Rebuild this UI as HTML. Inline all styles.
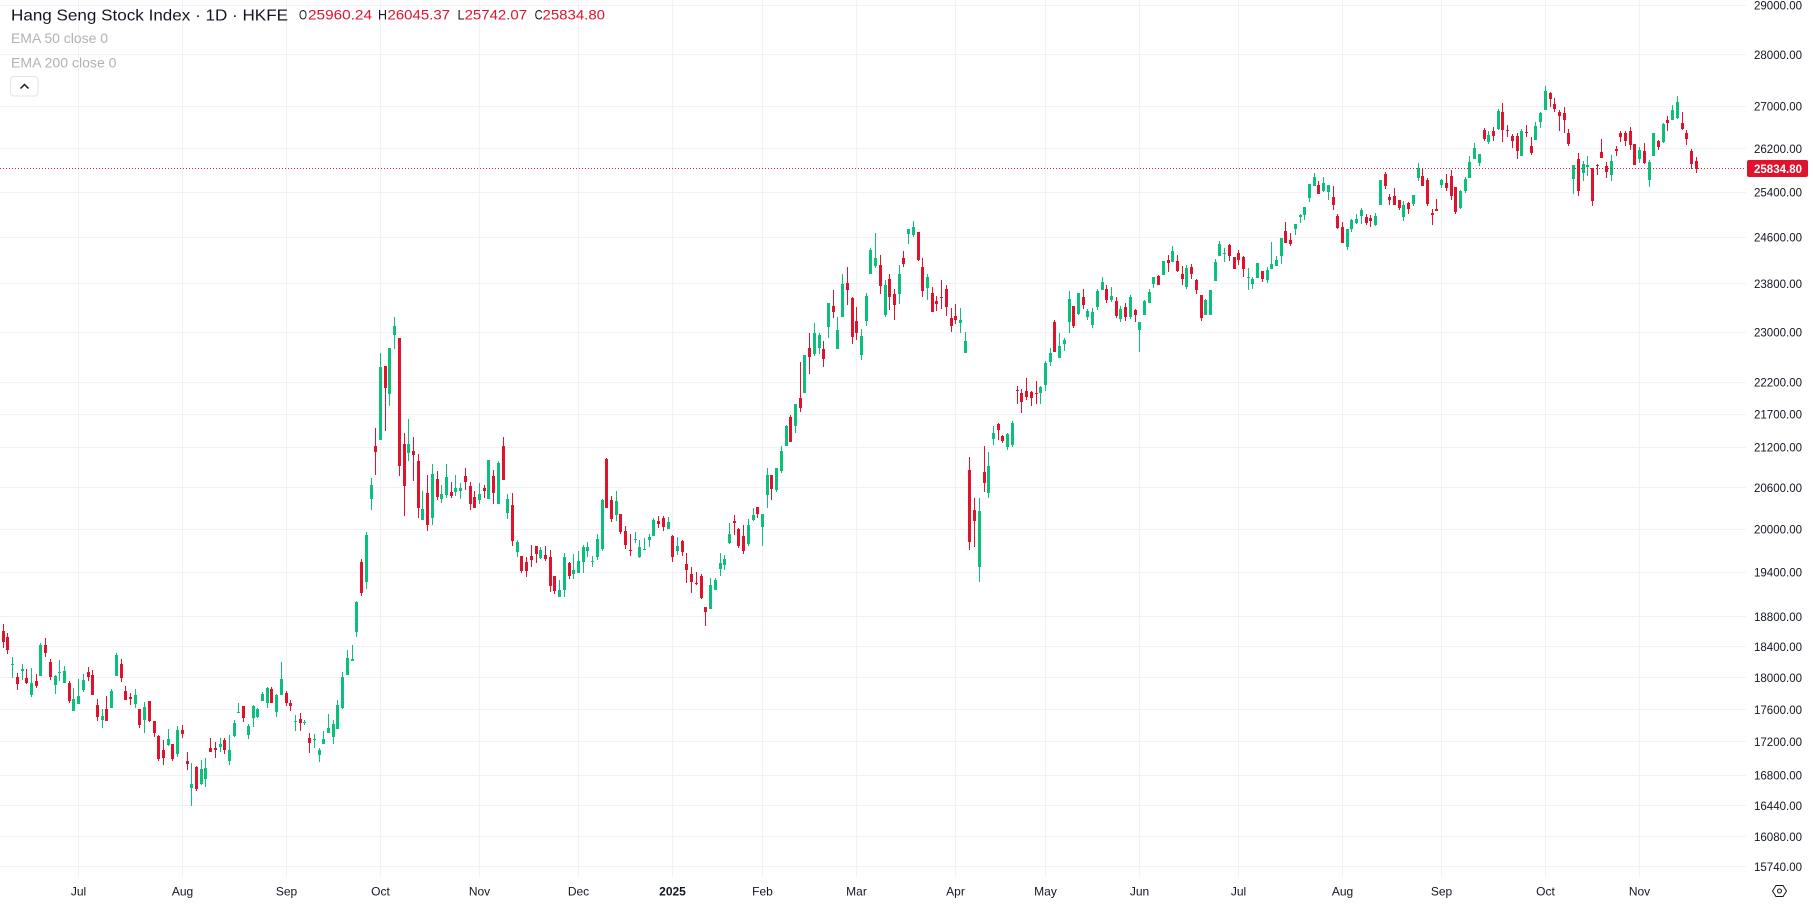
<!DOCTYPE html>
<html>
<head>
<meta charset="utf-8">
<style>
html,body{margin:0;padding:0;background:#ffffff;width:1813px;height:905px;overflow:hidden}
svg{display:block}
text{font-family:"Liberation Sans",Arial,sans-serif}
</style>
</head>
<body>
<svg width="1813" height="905" xmlns="http://www.w3.org/2000/svg">
<rect x="0" y="0" width="1813" height="905" fill="#ffffff"/>
<g stroke="#f0f2f7" stroke-width="1" shape-rendering="crispEdges">
<line x1="0" x2="1746" y1="5.5" y2="5.5"/>
<line x1="0" x2="1746" y1="54.5" y2="54.5"/>
<line x1="0" x2="1746" y1="106.5" y2="106.5"/>
<line x1="0" x2="1746" y1="148.5" y2="148.5"/>
<line x1="0" x2="1746" y1="192.5" y2="192.5"/>
<line x1="0" x2="1746" y1="237.5" y2="237.5"/>
<line x1="0" x2="1746" y1="283.5" y2="283.5"/>
<line x1="0" x2="1746" y1="332.5" y2="332.5"/>
<line x1="0" x2="1746" y1="382.5" y2="382.5"/>
<line x1="0" x2="1746" y1="414.5" y2="414.5"/>
<line x1="0" x2="1746" y1="447.5" y2="447.5"/>
<line x1="0" x2="1746" y1="487.5" y2="487.5"/>
<line x1="0" x2="1746" y1="529.5" y2="529.5"/>
<line x1="0" x2="1746" y1="572.5" y2="572.5"/>
<line x1="0" x2="1746" y1="616.5" y2="616.5"/>
<line x1="0" x2="1746" y1="646.5" y2="646.5"/>
<line x1="0" x2="1746" y1="677.5" y2="677.5"/>
<line x1="0" x2="1746" y1="709.5" y2="709.5"/>
<line x1="0" x2="1746" y1="741.5" y2="741.5"/>
<line x1="0" x2="1746" y1="775.5" y2="775.5"/>
<line x1="0" x2="1746" y1="805.5" y2="805.5"/>
<line x1="0" x2="1746" y1="836.5" y2="836.5"/>
<line x1="0" x2="1746" y1="866.5" y2="866.5"/>
<line y1="0" y2="877" x1="78.5" x2="78.5"/>
<line y1="0" y2="877" x1="182.5" x2="182.5"/>
<line y1="0" y2="877" x1="286.5" x2="286.5"/>
<line y1="0" y2="877" x1="380.5" x2="380.5"/>
<line y1="0" y2="877" x1="479.5" x2="479.5"/>
<line y1="0" y2="877" x1="578.5" x2="578.5"/>
<line y1="0" y2="877" x1="672.5" x2="672.5"/>
<line y1="0" y2="877" x1="762.5" x2="762.5"/>
<line y1="0" y2="877" x1="856.5" x2="856.5"/>
<line y1="0" y2="877" x1="955.5" x2="955.5"/>
<line y1="0" y2="877" x1="1045.5" x2="1045.5"/>
<line y1="0" y2="877" x1="1139.5" x2="1139.5"/>
<line y1="0" y2="877" x1="1238.5" x2="1238.5"/>
<line y1="0" y2="877" x1="1342.5" x2="1342.5"/>
<line y1="0" y2="877" x1="1441.5" x2="1441.5"/>
<line y1="0" y2="877" x1="1545.5" x2="1545.5"/>
<line y1="0" y2="877" x1="1639.5" x2="1639.5"/>
</g>

<g id="candles" shape-rendering="crispEdges"></g>

<line x1="0" x2="1746" y1="168.5" y2="168.5" stroke="#e0122c" stroke-width="1" stroke-dasharray="1 2" shape-rendering="crispEdges"/>

<!-- header -->
<text x="11" y="20.5" font-size="16" fill="#131722" textLength="277" lengthAdjust="spacingAndGlyphs">Hang Seng Stock Index · 1D · HKFE</text>
<g font-size="14">
<text x="299" y="19.5" fill="#131722" textLength="8" lengthAdjust="spacingAndGlyphs">O</text>
<text x="308" y="19.5" fill="#e0122c" textLength="64" lengthAdjust="spacingAndGlyphs">25960.24</text>
<text x="378" y="19.5" fill="#131722" textLength="9" lengthAdjust="spacingAndGlyphs">H</text>
<text x="387.5" y="19.5" fill="#e0122c" textLength="62.5" lengthAdjust="spacingAndGlyphs">26045.37</text>
<text x="457.5" y="19.5" fill="#131722" textLength="7" lengthAdjust="spacingAndGlyphs">L</text>
<text x="464.6" y="19.5" fill="#e0122c" textLength="62.5" lengthAdjust="spacingAndGlyphs">25742.07</text>
<text x="534.6" y="19.5" fill="#131722" textLength="8" lengthAdjust="spacingAndGlyphs">C</text>
<text x="542.5" y="19.5" fill="#e0122c" textLength="62.5" lengthAdjust="spacingAndGlyphs">25834.80</text>
<text x="11" y="43" fill="#b2b2b2" textLength="97" lengthAdjust="spacingAndGlyphs">EMA 50 close 0</text>
<text x="11" y="67.5" fill="#b2b2b2" textLength="105.5" lengthAdjust="spacingAndGlyphs">EMA 200 close 0</text>
</g>
<rect x="10.5" y="76.5" width="27.5" height="19.5" rx="3.5" ry="3.5" fill="#ffffff" stroke="#e0e3eb" stroke-width="1"/>
<polyline points="20.5,88.5 24.5,84.5 28.5,88.5" fill="none" stroke="#131722" stroke-width="1.5"/>

<!-- price axis labels -->
<g font-size="12" fill="#131722">
<text x="1754" y="9.5" textLength="48" lengthAdjust="spacingAndGlyphs">29000.00</text>
<text x="1754" y="59" textLength="48" lengthAdjust="spacingAndGlyphs">28000.00</text>
<text x="1754" y="110.5" textLength="48" lengthAdjust="spacingAndGlyphs">27000.00</text>
<text x="1754" y="153" textLength="48" lengthAdjust="spacingAndGlyphs">26200.00</text>
<text x="1754" y="196.5" textLength="48" lengthAdjust="spacingAndGlyphs">25400.00</text>
<text x="1754" y="241.5" textLength="48" lengthAdjust="spacingAndGlyphs">24600.00</text>
<text x="1754" y="288" textLength="48" lengthAdjust="spacingAndGlyphs">23800.00</text>
<text x="1754" y="336.5" textLength="48" lengthAdjust="spacingAndGlyphs">23000.00</text>
<text x="1754" y="386.5" textLength="48" lengthAdjust="spacingAndGlyphs">22200.00</text>
<text x="1754" y="418.5" textLength="48" lengthAdjust="spacingAndGlyphs">21700.00</text>
<text x="1754" y="451.5" textLength="48" lengthAdjust="spacingAndGlyphs">21200.00</text>
<text x="1754" y="492" textLength="48" lengthAdjust="spacingAndGlyphs">20600.00</text>
<text x="1754" y="533.5" textLength="48" lengthAdjust="spacingAndGlyphs">20000.00</text>
<text x="1754" y="576.5" textLength="48" lengthAdjust="spacingAndGlyphs">19400.00</text>
<text x="1754" y="621" textLength="48" lengthAdjust="spacingAndGlyphs">18800.00</text>
<text x="1754" y="651" textLength="48" lengthAdjust="spacingAndGlyphs">18400.00</text>
<text x="1754" y="682" textLength="48" lengthAdjust="spacingAndGlyphs">18000.00</text>
<text x="1754" y="714" textLength="48" lengthAdjust="spacingAndGlyphs">17600.00</text>
<text x="1754" y="746" textLength="48" lengthAdjust="spacingAndGlyphs">17200.00</text>
<text x="1754" y="779.5" textLength="48" lengthAdjust="spacingAndGlyphs">16800.00</text>
<text x="1754" y="810" textLength="48" lengthAdjust="spacingAndGlyphs">16440.00</text>
<text x="1754" y="841" textLength="48" lengthAdjust="spacingAndGlyphs">16080.00</text>
<text x="1754" y="871" textLength="48" lengthAdjust="spacingAndGlyphs">15740.00</text>
</g>
<rect x="1747" y="160" width="61" height="17" rx="2" ry="2" fill="#e0122c"/>
<text x="1754" y="172.8" font-size="12" font-weight="bold" fill="#ffffff" textLength="48" lengthAdjust="spacingAndGlyphs">25834.80</text>

<!-- time axis -->
<g font-size="12" fill="#131722" text-anchor="middle">
<text x="78.5" y="895.5">Jul</text>
<text x="182.5" y="895.5">Aug</text>
<text x="286.5" y="895.5">Sep</text>
<text x="380.5" y="895.5">Oct</text>
<text x="479.5" y="895.5">Nov</text>
<text x="578.5" y="895.5">Dec</text>
<text x="672.5" y="895.5" font-weight="bold">2025</text>
<text x="762.5" y="895.5">Feb</text>
<text x="856.5" y="895.5">Mar</text>
<text x="955.5" y="895.5">Apr</text>
<text x="1045.5" y="895.5">May</text>
<text x="1139.5" y="895.5">Jun</text>
<text x="1238.5" y="895.5">Jul</text>
<text x="1342.5" y="895.5">Aug</text>
<text x="1441.5" y="895.5">Sep</text>
<text x="1545.5" y="895.5">Oct</text>
<text x="1639.5" y="895.5">Nov</text>
</g>
<polygon points="1772.5,891 1776,885.5 1783,885.5 1786.5,891 1783,896.5 1776,896.5" fill="none" stroke="#131722" stroke-width="1"/>
<circle cx="1779.5" cy="891" r="2" fill="none" stroke="#131722" stroke-width="1"/>
</svg>

<script>
(function(){
var G="#0ac17c", R="#e0122c";
var S=[
[610,1,"r 42 63 95 113,r 69 81 119 131,g 140 161 163 204,r 188 201 221 239,g 162 177 182 210,r 177 204 218 221,g 174 219 255 260,r 192 213 228 235,g 99 105 197 197,r 84 105 128 140,r 147 156 201 210,g 195 198 224 251,g 150 185 187 213,g 168 183 218 218,r 213 219 273 278,g 234 268 302 302,g 207 258 281 281,g 192 210 239 246,r 171 186 201 213,r 180 195 254 254,r 267 285 320 332,g 297 318 329 353,r 258 297 332 332,g 237 243 293 293,g 129 135 197 197,r 147 162 204 216,r 228 243 269 269,r 249 261 266 285,g 237 255 281 293,r 296 296 344 353,g 276 291 329 368,r 273 273 332 335,r 332 332 370 382,r 374 377 446 452,r 390 420 443 464,g 357 387 405 407,r 402 402 446 452,g 347 360 431 440,r 345 360 371 383,r 426 453 461 479,g 459 522 533 587,r 467 470 537 542,g 450 477 521 524,g 443 474 506 530,r 384 414 425 425,r 396 414 419 443,g 384 402 411 425,r 384 390 419 431,g 375 420 452 464,g 330 339 377 380,g 279 306 308 310,r 288 288 323 335,g 342 348 374 386,g 285 288 323 350,g 294 297 320 323,g 246 252 272 272,g 231 234 279 293,r 231 237 279 279,g 252 255 305 320,g 156 207 255 255,r 243 249 279 287,r 270 279 288 302,g 315 332 334 362,r 309 327 338 362,g 330 336 338 345,r 369 384 398 428,g 372 386 389 414,g 414 420 434 455,g 362 387 401 401,g 312 354 368 368,g 330 342 380 401,g 270 285 356 356,g 186 201 294 296,g 120 144 194 194,g 105 147 152 152"],
[310,76,"g 872 875 965 980,r 747 756 848 857,g 666 675 815 836,g 504 525 566 599,r 354 408 425 494,g 129 171 389 389,r 168 168 233 362,g 114 114 251 287,g 21 48 74 116,r 84 84 467 497,r 369 402 527 617,g 327 402 428 452,r 381 423 434 512,r 432 453 593 623,g 543 597 629 629,r 494 549 644 662,g 462 491 623 644,r 483 507 561 569,g 525 552 566 578,g 462 501 554 563,r 516 546 557 563,g 495 534 545 557,g 519 534 542 566,r 474 498 516 539,r 516 528 581 599,r 543 561 593 593,g 519 552 569 581,r 525 534 542 563,g 450 450 566 566,r 480 497 548 581,g 453 459 581 581,r 381 408 509 509,g 552 567 608 626,r 549 585 692 707,g 690 696 725 740,r 738 738 782 788,r 741 756 782 800,r 705 738 749 770,r 708 708 731 758,g 711 720 743 746,r 708 735 746 752,r 720 741 827 845,r 798 798 842 851,g 809 839 860 860,g 728 741 839 860,r 757 759 797 806,g 731 780 791 806,g 722 752 788 788,g 705 711 755 788,g 696 711 722 740,g 738 752 754 770,g 672 687 740 749,g 567 570 716 722,r 443 447 593 593,r 558 570 626 635,g 543 573 614 632,r 612 612 665 671,r 648 663 705 716,r 672 719 721 737,g 666 686 688 698,g 690 711 741 743,g 684 716 718 720,g 672 681 689 711,g 624 630 677 677,r 617 632 641 653,r 618 624 650 662,g 621 636 656 656,r 675 677 740 755,g 681 708 722 734,r 689 692 725 737,r 729 762 779 818,r 771 792 815 848,r 785 819 821 824,r 791 797 863 866,r 891 891 905 947,g 803 825 896 896,g 803 809 839 839,g 729 759 776 797,g 735 746 764 779,g 639 672 698 701,r 615 632 638 674,r 654 657 707 713,r 645 678 722 731,g 627 645 701 707"],
[210,160,"g 894 915 929 932,r 891 891 911 923,g 912 912 950 1007,g 774 795 854 893,r 795 795 836 869,g 774 774 839 845,g 708 723 782 788,g 645 648 707 707,r 615 621 695 695,g 582 582 647 668,r 456 564 593 605,g 435 435 548 548,r 369 414 440 491,g 339 369 431 437,g 369 375 413 431,r 393 417 446 470,g 279 279 350 383,r 240 288 305 323,g 321 360 416 416,g 192 222 320 320,r 171 219 239 284,r 261 264 380 401,r 291 333 368 389,g 357 378 434 449,g 249 258 332 347,g 114 120 191 191,g 69 144 167 173,r 135 165 227 251,g 210 225 314 320,r 192 207 260 299,r 237 252 284 329,g 165 192 251 281,r 123 144 161 170,g 57 57 71 101,g 33 51 74 80,r 66 66 150 153,r 144 171 242 260,g 192 201 233 269,r 231 249 305 305,r 257 272 281 302,r 210 260 262 296,r 225 237 290 317,r 294 324 347 365,r 282 318 329 341,g 294 330 338 368,g 366 393 428 428,r 741 780 995 1019,r 864 900 932 1010,g 864 903 1070 1115,r 708 786 818 845,g 726 768 848 863,g 648 669 686 704"],
[150,212,"r 819 822 839 869,r 855 857 873 880,g 848 851 891 900,g 812 819 885 890,r 708 719 721 761,r 717 729 755 788,r 684 723 741 750,r 723 726 743 767,r 693 729 731 761,g 708 711 728 761,g 633 639 705 722,g 594 609 636 648,r 510 516 606 606,g 549 588 624 624,g 564 570 581 603,g 423 447 516 549,r 468 468 528 534,g 429 429 492 495,r 417 441 465 477,g 477 483 501 510,g 474 486 524 534,g 417 423 471 480,g 381 396 420 420,r 405 417 449 459,g 411 438 450 456,r 441 453 498 504,g 468 477 507 516,r 459 471 501 513,g 435 441 501 507,r 477 480 495 516,g 516 516 540 606,g 450 453 495 495,g 417 426 459 459,g 381 381 402 414,r 375 378 405 405,g 333 333 375 375,r 315 330 339 366,g 288 303 336 336,r 315 333 363 366,r 348 372 387 405,g 345 354 411 417,r 342 351 372 387,r 387 390 420 432,r 435 435 504 513,g 447 450 495 495,g 420 420 495 495,g 327 336 393 393,g 273 282 318 318,g 294 309 311 336,r 282 285 318 333,r 321 321 357 357,r 300 309 330 345,r 318 321 357 381,g 354 382 384 420,g 381 387 402 417,g 339 339 384 384,r 363 363 387 396,g 351 360 390 399,g 276 342 357 357,g 318 330 348 348,g 264 264 318 342,r 216 243 279 279,r 249 270 282 288,g 222 222 237 255,g 192 195 201 219,g 171 171 195 210,g 102 102 144 156,g 69 81 108 108,r 93 105 132 132,g 81 99 123 126,g 105 105 126 150,r 108 141 165 180,r 192 198 234 237"],
[75,285,"r 441 456 503 503,g 462 462 515 525,g 432 435 461 470,g 417 432 443 446,g 399 405 422 446,r 417 426 443 449,r 420 429 437 455,g 414 423 449 452,g 316 316 389 389,r 291 297 332 341,r 357 366 374 389,r 339 363 389 389,r 375 375 398 404,g 378 390 425 437,r 381 384 401 416,g 360 360 386 392,g 264 279 308 317,r 279 303 332 332,r 309 315 386 392,r 402 414 419 449,r 372 402 407 407,g 312 315 329 338,r 297 324 338 347,r 285 303 362 374,r 336 336 410 416,g 345 348 398 401,g 306 312 348 353,g 243 261 308 308,g 204 219 251 251,g 237 237 264 273,r 159 165 192 198,g 168 180 201 207,r 156 168 183 198,g 102 108 162 165,r 84 111 165 201,r 150 165 167 186,r 177 183 198 219,r 174 183 228 252,g 162 168 243 243,r 150 171 173 186,r 186 213 234 240,g 141 153 195 195,g 111 114 141 159,g 33 48 104 104,r 51 54 71 95,r 69 87 101 110,r 105 111 122 168,r 96 114 134 174,r 162 174 207 213,g 270 270 312 357,r 234 252 347 362,g 258 267 293 318,g 243 270 276 303,r 279 279 377 392,r 267 271 273 299,r 192 231 249 249,r 261 273 290 308,g 240 258 299 317,r 213 222 228 243,r 168 174 186 201,r 167 174 197 213,r 156 168 210 225,r 207 207 269 269,g 216 225 252 264,r 204 228 264 267,g 255 261 314 335,g 174 174 242 242,r 195 198 215 224,g 144 147 201 204,r 123 135 143 167,g 90 105 135 135,g 63 81 129 132,r 111 144 162 165,r 165 174 192 210,r 222 228 266 281,r 246 258 281 293"]
];
var out="";
for(var s=0;s<S.length;s++){
  var off=S[s][0], idx=S[s][1], arr=S[s][2].split(",");
  for(var k=0;k<arr.length;k++){
    var a=arr[k].trim().split(/\s+/);
    var col=a[0]==="g"?G:R;
    var v=[];
    for(var j=1;j<5;j++) v.push(Math.round(off+parseFloat(a[j])/3));
    var wt=v[0], bt=v[1], bb=v[2], wb=v[3];
    if(bb-bt<1) bb=bt+1;
    if(wt>bt) wt=bt;
    if(wb<bb) wb=bb;
    var i=idx+k;
    var cx=Math.floor(-1.58+4.7163*i);
    out+='<rect x="'+cx+'" y="'+wt+'" width="1" height="'+(wb-wt)+'" fill="'+col+'"/>';
    out+='<rect x="'+(cx-1)+'" y="'+bt+'" width="3" height="'+(bb-bt)+'" fill="'+col+'"/>';
  }
}
document.getElementById("candles").innerHTML=out;
})();
</script>
</body>
</html>
